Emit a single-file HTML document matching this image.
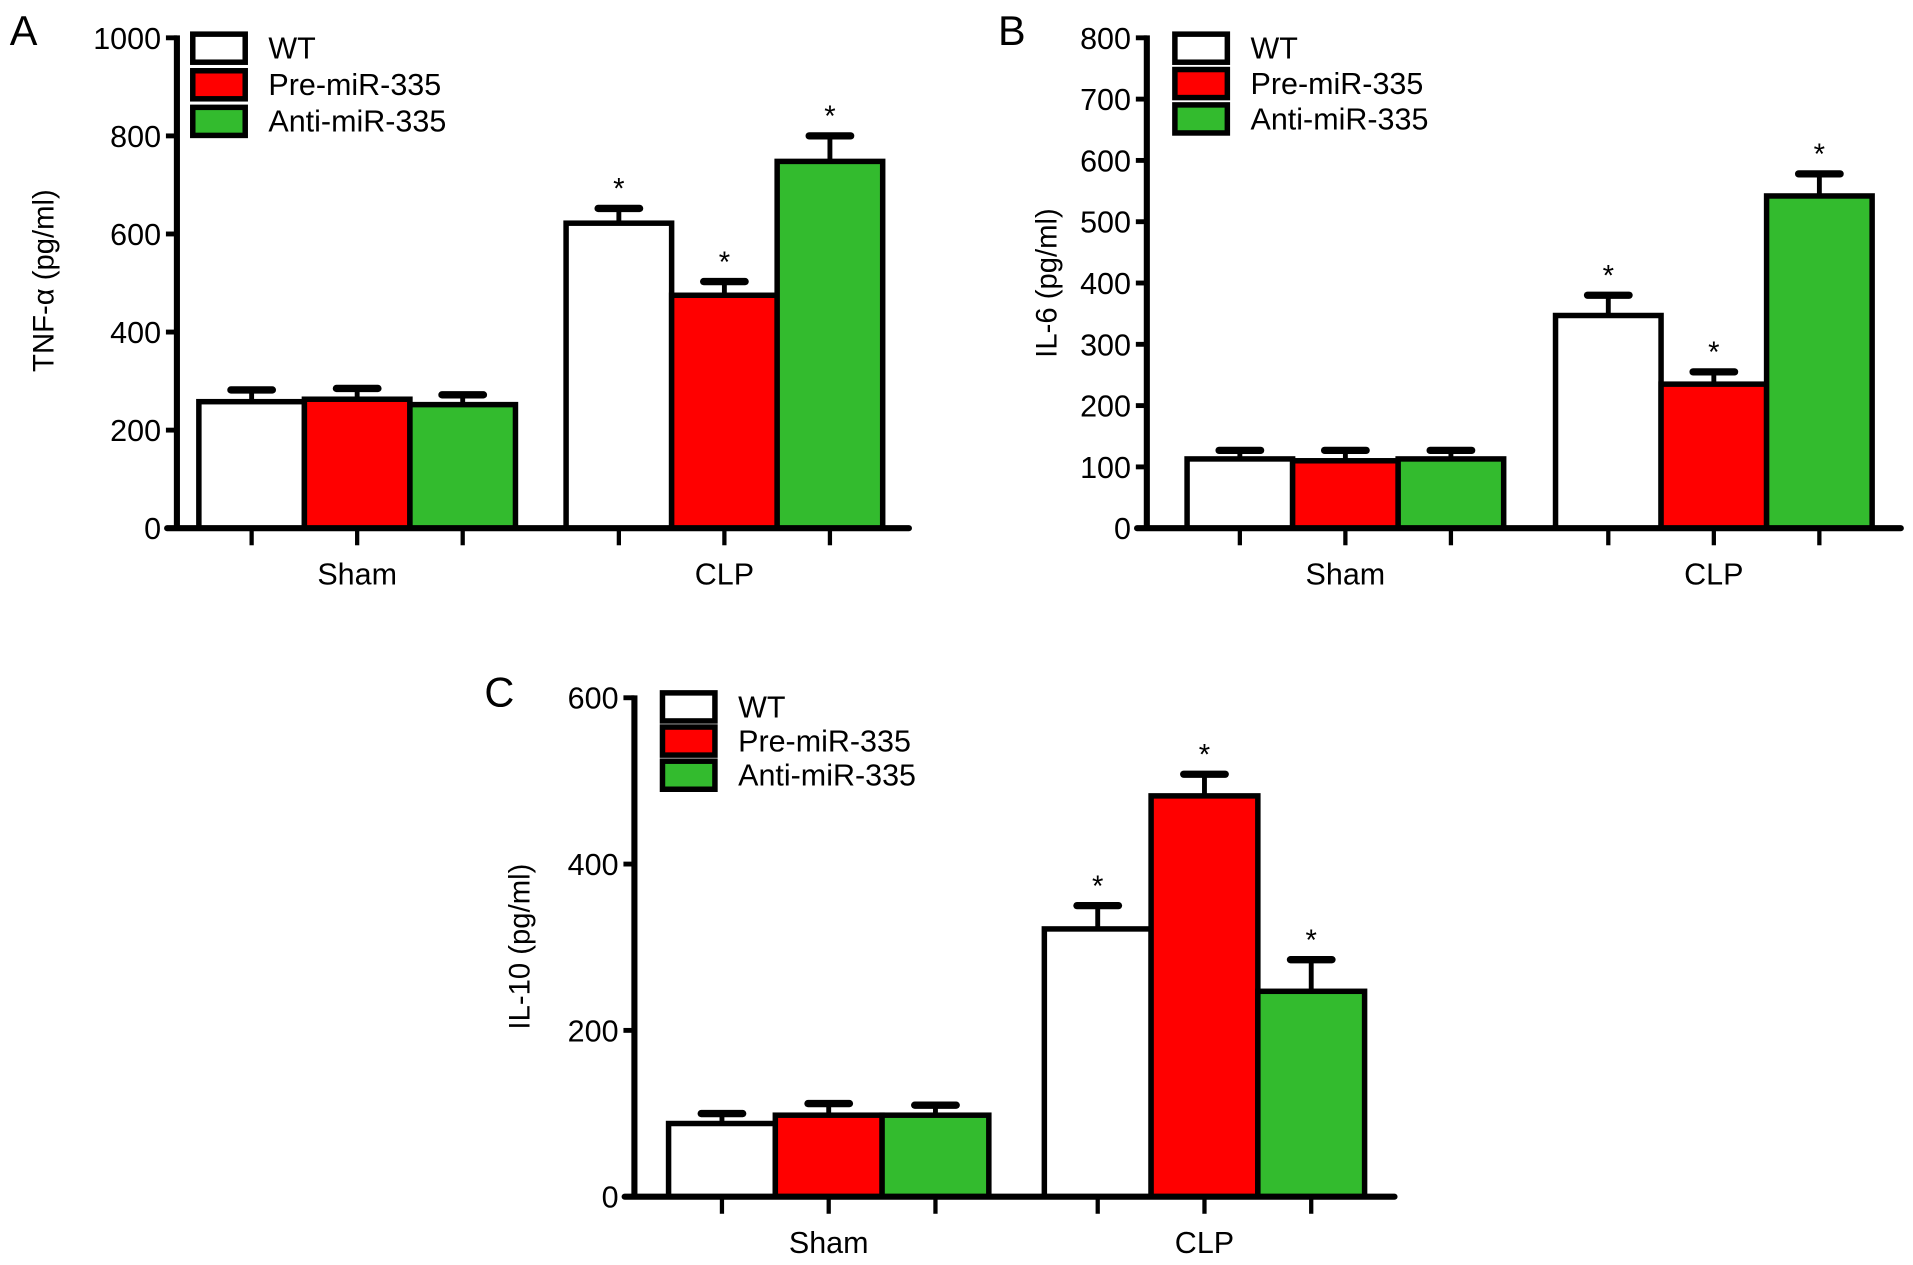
<!DOCTYPE html>
<html><head><meta charset="utf-8"><style>
html,body{margin:0;padding:0;background:#fff;}
svg{display:block;font-family:"Liberation Sans",Arial,sans-serif;}
</style></head><body>
<svg id="fig" width="1913" height="1265" viewBox="0 0 1568 1037" preserveAspectRatio="none" xmlns="http://www.w3.org/2000/svg"></svg>
<script>
const groups = ["Sham", "CLP"];
const seriesNames = ["WT", "Pre-miR-335", "Anti-miR-335"];
const seriesColors = ["#ffffff", "#ff0000", "#33bb2e"];
const tnfMeans = [[258, 263, 252], [622, 475, 748]];
const tnfErr = [[24, 22, 20], [30, 28, 52]];
const il6Means = [[113, 110, 113], [347, 235, 542]];
const il6Err = [[14, 17, 14], [33, 20, 36]];
const il10Means = [[88, 98, 98], [322, 482, 247]];
const il10Err = [[12, 14, 12], [28, 26, 38]];
const tnfTicks = [0, 200, 400, 600, 800, 1000];
const il6Ticks = [0, 100, 200, 300, 400, 500, 600, 700, 800];
const il10Ticks = [0, 200, 400, 600];
const sigFlags = [[false, false, false], [true, true, true]];

const NS = "http://www.w3.org/2000/svg";
const svg = document.getElementById("fig");
function mk(tag, attrs, parent, text) {
  const e = document.createElementNS(NS, tag);
  for (const k in attrs) e.setAttribute(k, attrs[k]);
  if (text !== undefined) e.textContent = text;
  (parent || svg).appendChild(e);
  return e;
}

function panel(cfg) {
  const g = mk("g", {});
  
  
  const yMax = cfg.ticks[cfg.ticks.length - 1];
  const y = v => cfg.y0 - (v / yMax) * (cfg.y0 - cfg.yTop);
  const bw = cfg.bw;
  const xBar = (gi, si) => cfg.gx[gi] + si * bw;

  const letter = mk("text", {x: cfg.lx, y: cfg.ly, "font-size": 34}, g, cfg.letter);
  
  

  for (let gi = 0; gi < groups.length; gi++) {
    for (let si = 0; si < seriesNames.length; si++) {
      const v = cfg.means[gi][si], e = cfg.err[gi][si];
      const x = xBar(gi, si), cx = x + bw / 2;
      const r = mk("rect", {x: x, y: y(v), width: bw, height: cfg.y0 - y(v), fill: seriesColors[si], stroke: "#000", "stroke-width": 4.5}, g);
      
      
      const eb = mk("g", {stroke: "#000", "stroke-width": 4}, g);
      
      
      mk("line", {x1: cx, x2: cx, y1: y(v), y2: y(v + e)}, eb);
      mk("line", {x1: cx - 17, x2: cx + 17, y1: y(v + e), y2: y(v + e), "stroke-width": 6, "stroke-linecap": "round"}, eb);
      if (sigFlags[gi][si]) {
        const s = mk("text", {x: cx, y: y(v + e) - 8, "font-size": 24, "text-anchor": "middle"}, g, "*");
        
        
      }
      const t = mk("line", {x1: cx, x2: cx, y1: cfg.y0, y2: cfg.y0 + 14, stroke: "#000", "stroke-width": 3.5}, g);
      
      
    }
    const gl = mk("text", {x: cfg.gx[gi] + 1.5 * bw, y: cfg.y0 + 46, "font-size": 25, "text-anchor": "middle"}, g, groups[gi]);
    
    
  }

  const ya = mk("line", {x1: cfg.ax, x2: cfg.ax, y1: cfg.yTop - 2, y2: cfg.y0 + 2, stroke: "#000", "stroke-width": 5}, g);
  
  
  const xa = mk("line", {x1: cfg.ax - 8, x2: cfg.axEnd, y1: cfg.y0, y2: cfg.y0, stroke: "#000", "stroke-width": 5, "stroke-linecap": "round"}, g);
  
  
  for (const tv of cfg.ticks) {
    mk("line", {x1: cfg.ax - 9, x2: cfg.ax, y1: y(tv), y2: y(tv), stroke: "#000", "stroke-width": 4}, g);
    const tl = mk("text", {x: cfg.ax - 13, y: y(tv) + 9, "font-size": 25, "text-anchor": "end"}, g, String(tv));
    
    
  }
  const yl = mk("text", {x: 0, y: 0, "font-size": 24, "text-anchor": "middle", transform: `translate(${cfg.ylx},${cfg.yly}) rotate(-90)`}, g, cfg.ylabel);
  
  

  for (let si = 0; si < seriesNames.length; si++) {
    const le = mk("g", {}, g);
    
    
    const by = cfg.legY + si * cfg.legStep;
    mk("rect", {x: cfg.legX, y: by - 11, width: 43, height: 23, fill: seriesColors[si], stroke: "#000", "stroke-width": 4.5}, le);
    mk("text", {x: cfg.legX + 62, y: by + 9, "font-size": 25}, le, seriesNames[si]);
  }
}

panel({id: "tnf", letter: "A", lx: 8, ly: 37, ax: 145, axEnd: 745, y0: 433, yTop: 31, ticks: tnfTicks,
  means: tnfMeans, err: tnfErr, gx: [163, 464], bw: 86.5, ylabel: "TNF-α (pg/ml)", ylx: 44, yly: 230,
  legX: 158, legY: 39, legStep: 30});
panel({id: "il6", letter: "B", lx: 818, ly: 37, ax: 940, axEnd: 1558, y0: 433, yTop: 31, ticks: il6Ticks,
  means: il6Means, err: il6Err, gx: [973, 1275], bw: 86.5, ylabel: "IL-6 (pg/ml)", ylx: 866, yly: 232,
  legX: 963, legY: 39, legStep: 29});
panel({id: "il10", letter: "C", lx: 397, ly: 579, ax: 520, axEnd: 1143, y0: 981, yTop: 572, ticks: il10Ticks,
  means: il10Means, err: il10Err, gx: [548, 856], bw: 87.5, ylabel: "IL-10 (pg/ml)", ylx: 434, yly: 776,
  legX: 543, legY: 579, legStep: 28});
</script>
</body></html>
